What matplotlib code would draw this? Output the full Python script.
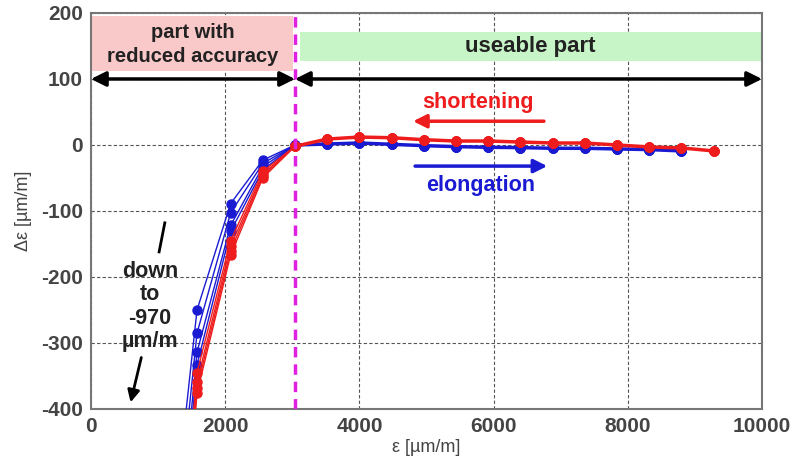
import numpy as np
import matplotlib
matplotlib.use("Agg")
import matplotlib.pyplot as plt
from matplotlib.patches import Rectangle

plt.rcParams['font.family'] = ['Liberation Sans', 'DejaVu Sans']
plt.rcParams['axes.unicode_minus'] = False

# steep left part (x in um/m), one list per measured curve
x_left = [1100, 1580, 2080, 2560]
blue_left = [
    [-700, -250, -89, -23],
    [-760, -285, -103, -28],
    [-820, -314, -122, -33],
    [-870, -333, -131, -38],
]
red_left = [
    [-900, -345, -145, -40],
    [-930, -359, -153, -44],
    [-950, -368, -160, -47],
    [-970, -376, -167, -50],
]

# flat useable part (shared by the curves of one colour)
x_blue_right = [3040, 3520, 4000, 4480, 4960, 5440, 5920, 6400, 6880, 7360, 7840, 8320, 8800]
blue_right = [0, 1.5, 3, 1, -1, -2.5, -3.5, -4, -5, -5, -6, -7, -9]
x_red_right = [3040, 3520, 4000, 4480, 4960, 5440, 5920, 6400, 6880, 7360, 7840, 8320, 8800, 9280]
red_right = [-2, 9, 12, 11, 8, 6, 6, 4.5, 3, 3, 0, -3, -4.5, -9]

x_limit = 3040

BLUE = '#1a1ad2'
RED = '#ee1c1c'

fig = plt.figure(figsize=(7.94, 4.59), dpi=100)
ax = fig.add_axes([0.1146, 0.109, 0.8451, 0.8627])

for yl in blue_left:
    ax.plot(x_left + x_blue_right, yl + blue_right, '-o', color=BLUE, lw=1.0, ms=6.5, zorder=4)
for yl in red_left:
    ax.plot(x_left + x_red_right, yl + red_right, '-o', color=RED, lw=1.0, ms=6.5, zorder=5)
# thicker flat parts
ax.plot(x_blue_right, blue_right, '-', color=BLUE, lw=2.5, zorder=4)
ax.plot(x_red_right, red_right, '-', color=RED, lw=2.5, zorder=5)

ax.axvline(x_limit, color='#e020e0', lw=2.5, ls=(0, (3, 2)), zorder=6)

# shaded regions
ax.add_patch(Rectangle((0, 112), x_limit - 30, 84, facecolor='#f9c8c8', edgecolor='none', zorder=1))
ax.add_patch(Rectangle((x_limit + 80, 127), 10000 - x_limit - 80, 44, facecolor='#c8f5c8', edgecolor='none', zorder=1))

ax.text(x_limit / 2, 152, 'part with\nreduced accuracy', ha='center', va='center',
        fontsize=14.5, fontweight='bold', color='#222222', linespacing=1.3, zorder=3)
ax.text(6540, 149, 'useable part', ha='center', va='center',
        fontsize=16, fontweight='bold', color='#222222', zorder=3)

arrow_kw = dict(arrowstyle='<|-|>', color='black', lw=2.5, mutation_scale=22, shrinkA=0, shrinkB=0)
ax.annotate('', xy=(0, 100), xytext=(x_limit, 100), arrowprops=arrow_kw, zorder=7)
ax.annotate('', xy=(x_limit, 100), xytext=(10000, 100), arrowprops=arrow_kw, zorder=7)

ax.text(5770, 64, 'shortening', ha='center', va='center', fontsize=15.5, fontweight='bold', color=RED)
ax.annotate('', xy=(4800, 36), xytext=(6750, 36),
            arrowprops=dict(arrowstyle='-|>', color=RED, lw=2.5, mutation_scale=20, shrinkA=0, shrinkB=0))
ax.text(5800, -61, 'elongation', ha='center', va='center', fontsize=15.5, fontweight='bold', color=BLUE)
ax.annotate('', xy=(6800, -32), xytext=(4830, -32),
            arrowprops=dict(arrowstyle='-|>', color=BLUE, lw=2.5, mutation_scale=20, shrinkA=0, shrinkB=0))

ax.text(880, -245, 'down\nto\n-970\n\u00b5m/m', ha='center', va='center', fontsize=15.5,
        fontweight='bold', color='#222222', linespacing=1.15)
ax.plot([1100, 1015], [-118, -162], color='black', lw=2)
ax.annotate('', xy=(590, -390), xytext=(750, -322),
            arrowprops=dict(arrowstyle='-|>', color='black', lw=2, mutation_scale=18, shrinkA=0, shrinkB=0))

ax.set_xlim(0, 10000)
ax.set_ylim(-400, 200)
ax.set_xticks(np.arange(0, 10001, 2000))
ax.set_yticks(np.arange(-400, 201, 100))
ax.grid(True, ls=(0, (3, 2)), color='#555555', lw=0.8)
ax.set_axisbelow(True)
for s in ax.spines.values():
    s.set_color('#777777')
    s.set_linewidth(1.5)
ax.tick_params(length=0, pad=6, labelsize=15, labelcolor='#444444')
for lab in ax.get_xticklabels() + ax.get_yticklabels():
    lab.set_fontweight('bold')

ax.set_xlabel('\u03b5 [\u00b5m/m]', fontsize=13, color='#444444', labelpad=2)
ax.set_ylabel('\u0394\u03b5 [\u00b5m/m]', fontsize=13, color='#444444', labelpad=6)

fig.savefig('out.png', dpi=100)
